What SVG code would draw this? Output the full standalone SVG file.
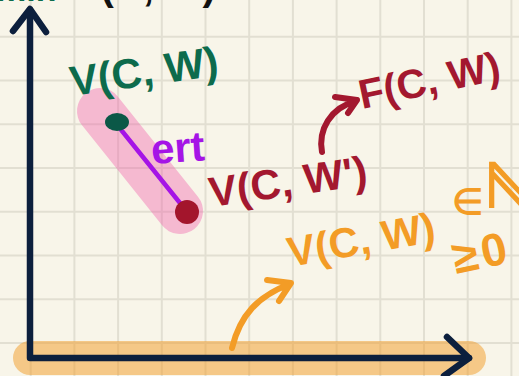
<svg xmlns="http://www.w3.org/2000/svg" width="519" height="376" viewBox="0 0 519 376">
<style>
.grid{stroke:#e2dfd2;stroke-width:2;fill:none}
.axis{stroke:#0c1f3d;stroke-width:6.5;fill:none;stroke-linecap:round;stroke-linejoin:round}
.hand{font-family:"Liberation Sans",Arial,sans-serif;font-weight:bold}
.pen{fill:none;stroke-linecap:round;stroke-linejoin:round}
</style>
<rect width="519" height="376" fill="#f8f5e9"/>
<g id="grid">
<path class="grid" d="M30.7 0V376M74.4 0V376M118.1 0V376M161.8 0V376M205.5 0V376M249.2 0V376M292.9 0V376M336.6 0V376M380.3 0V376M424 0V376M467.7 0V376M511.4 0V376M0 36.7H519M0 80.5H519M0 124.2H519M0 168H519M0 211.7H519M0 255.5H519M0 299.2H519M0 343H519"/>
</g>
<g id="highlights">
<line x1="30" y1="358" x2="469" y2="358" stroke="#f29b25" stroke-opacity="0.5" stroke-width="34" stroke-linecap="round"/>
<line x1="100" y1="111" x2="180" y2="211" stroke="#f05faa" stroke-opacity="0.4" stroke-width="46" stroke-linecap="round"/>
</g>
<g id="axes">
<path class="axis" d="M30 10V358H469"/>
<path class="axis" d="M13 31L30 9L46 32"/>
<path class="axis" d="M447 337L469 358L444 376"/>
</g>
<g id="title-fragment">
<text class="hand" x="-4" y="1" font-size="34" fill="#0d6b4c">min</text>
<text class="hand" x="76" y="0" font-size="40" fill="#111111">F(C, W)</text>
</g>
<g id="connectors">
<line x1="118" y1="126" x2="184" y2="208" stroke="#a514e6" stroke-width="4.5" stroke-linecap="round"/>
<path class="pen" stroke="#a3182f" stroke-width="6" d="M322 152C318 130 330 108 356 101M335 97L357 100L348 113"/>
<path class="pen" stroke="#f39c26" stroke-width="6" d="M232 348C240 315 258 296 290 284M267 280L291 283L279 301"/>
</g>
<g id="node-v-cw">
<ellipse cx="117" cy="122" rx="12" ry="9" fill="#0b5847"/>
<text class="hand" transform="translate(72 96) rotate(-8)" font-size="42" fill="#0d6b4c">V(C, W)</text>
</g>
<g id="node-v-cw-prime">
<circle cx="187" cy="212" r="12" fill="#a3152c"/>
<text class="hand" transform="translate(211 207) rotate(-8)" font-size="42" fill="#a3182f">V(C, W')</text>
</g>
<g id="label-ert">
<text class="hand" transform="translate(152 164) rotate(-4)" font-size="42" fill="#a514e6">ert</text>
</g>
<g id="node-f-cw">
<text class="hand" transform="translate(362 109) rotate(-12)" font-size="41" fill="#a3182f">F(C, W)</text>
</g>
<g id="node-v-cw-nat">
<text class="hand" transform="translate(290 267) rotate(-10)" font-size="42" fill="#f39c26">V(C, W)</text>
<text class="hand" x="452" y="214" font-size="36" fill="#f39c26">∈</text>
<text class="hand" x="484" y="207" font-size="62" fill="#f39c26">ℕ</text>
<text class="hand" transform="translate(456 274) rotate(-12)" font-size="46" fill="#f39c26" letter-spacing="4">≥0</text>
</g>
</svg>
